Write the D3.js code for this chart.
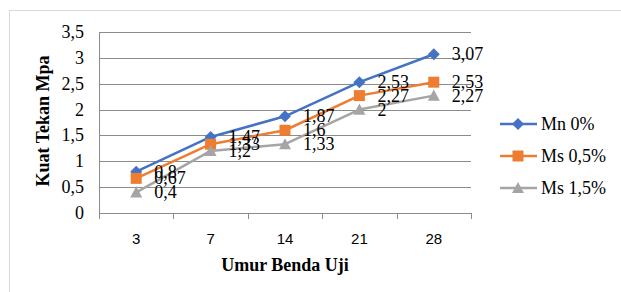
<!DOCTYPE html>
<html>
<head>
<meta charset="utf-8">
<script src="https://cdn.jsdelivr.net/npm/d3@7"></script>
<style>
  body { margin: 0; background: #fff; }
  svg { display: block; }
</style>
</head>
<body>
<svg id="chart" width="621" height="292"></svg>
<script>
// chart data
const categories = ["3", "7", "14", "21", "28"];
const seriesNames = ["Mn 0%", "Ms 0,5%", "Ms 1,5%"];
const mn0 = [0.8, 1.47, 1.87, 2.53, 3.07];
const ms05 = [0.67, 1.33, 1.6, 2.27, 2.53];
const ms15 = [0.4, 1.2, 1.33, 2, 2.27];
const yTicks = [0, 0.5, 1, 1.5, 2, 2.5, 3, 3.5];

const colors = ["#4472C4", "#ED7D31", "#A5A5A5"];

// excel-like marker shapes (square diamond, square, triangle)
const diamond = { draw: function(ctx, size) { const r = Math.sqrt(size) / 2;
  ctx.moveTo(0, -r); ctx.lineTo(r, 0); ctx.lineTo(0, r); ctx.lineTo(-r, 0); ctx.closePath(); } };
const square = { draw: function(ctx, size) { const r = Math.sqrt(size) / 2;
  ctx.rect(-r, -r, 2 * r, 2 * r); } };
const triangle = { draw: function(ctx, size) { const r = Math.sqrt(size) / 2;
  ctx.moveTo(0, -r); ctx.lineTo(r, r * 0.85); ctx.lineTo(-r, r * 0.85); ctx.closePath(); } };
const shapes = [diamond, square, triangle];
const symSize = [144, 121, 144];

const series = [mn0, ms05, ms15].map(function(v, i) {
  return { name: seriesNames[i], values: v, color: colors[i], shape: shapes[i], size: symSize[i] };
});

const svg = d3.select("#chart");
const serif = "'Liberation Serif', 'Times New Roman', serif";
const fmt = function(v) { return String(v).replace(".", ","); };

// outer frame (cut off at right and bottom like the reference)
svg.append("rect")
  .attr("x", 9.5).attr("y", 10.5)
  .attr("width", 640).attr("height", 300)
  .attr("fill", "none")
  .attr("stroke", "#d9d9d9")
  .attr("stroke-width", 1);

const plot = { left: 99, right: 471, top: 32, bottom: 213 };

const x = d3.scaleBand()
  .domain(categories)
  .range([plot.left, plot.right]);

const y = d3.scaleLinear()
  .domain([0, 3.5])
  .range([plot.bottom, plot.top]);

// gridlines
svg.append("g")
  .selectAll("line")
  .data(yTicks.filter(function(d) { return d > 0; }))
  .enter().append("line")
    .attr("x1", plot.left).attr("x2", plot.right)
    .attr("y1", function(d) { return Math.round(y(d)) + 0.5; })
    .attr("y2", function(d) { return Math.round(y(d)) + 0.5; })
    .attr("stroke", "#8c8c8c")
    .attr("stroke-width", 1);

// y axis line
svg.append("line")
  .attr("x1", plot.left + 0.5).attr("x2", plot.left + 0.5)
  .attr("y1", plot.top).attr("y2", plot.bottom)
  .attr("stroke", "#8c8c8c");

// y tick labels
svg.append("g")
  .selectAll("text")
  .data(yTicks)
  .enter().append("text")
    .attr("x", 84)
    .attr("y", function(d) { return y(d); })
    .attr("dy", "0.33em")
    .attr("text-anchor", "end")
    .style("font-family", serif)
    .style("font-size", "18px")
    .attr("fill", "#000")
    .text(fmt);

// x axis with ticks at band edges
const xAxisG = svg.append("g");
xAxisG.append("line")
  .attr("x1", plot.left).attr("x2", plot.right)
  .attr("y1", plot.bottom + 0.5).attr("y2", plot.bottom + 0.5)
  .attr("stroke", "#8c8c8c");

const edges = categories.map(function(c) { return x(c); }).concat([plot.right]);
xAxisG.selectAll(".tk")
  .data(edges)
  .enter().append("line")
    .attr("class", "tk")
    .attr("x1", function(d) { return Math.round(d) + 0.5; })
    .attr("x2", function(d) { return Math.round(d) + 0.5; })
    .attr("y1", plot.bottom).attr("y2", plot.bottom + 6)
    .attr("stroke", "#8c8c8c");

xAxisG.selectAll("text")
  .data(categories)
  .enter().append("text")
    .attr("x", function(d) { return x(d) + x.bandwidth() / 2; })
    .attr("y", 244)
    .attr("text-anchor", "middle")
    .style("font-family", "'Liberation Sans', Arial, sans-serif")
    .style("font-size", "15px")
    .attr("fill", "#000")
    .text(function(d) { return d; });

// axis titles
svg.append("text")
  .attr("x", 285).attr("y", 271)
  .attr("text-anchor", "middle")
  .style("font-family", serif)
  .style("font-size", "18px")
  .style("font-weight", "bold")
  .text("Umur Benda Uji");

svg.append("text")
  .attr("transform", "translate(49,121) rotate(-90)")
  .attr("text-anchor", "middle")
  .style("font-family", serif)
  .style("font-size", "18px")
  .style("font-weight", "bold")
  .text("Kuat Tekan Mpa");

const cx = function(i) { return x(categories[i]) + x.bandwidth() / 2; };

const line = d3.line()
  .x(function(d, i) { return cx(i); })
  .y(function(d) { return y(d); });

// series lines and markers
series.forEach(function(s) {
  const g = svg.append("g");
  g.append("path")
    .datum(s.values)
    .attr("d", line)
    .attr("fill", "none")
    .attr("stroke", s.color)
    .attr("stroke-width", 2.5)
    .attr("stroke-linejoin", "round");
  g.selectAll("path.m")
    .data(s.values)
    .enter().append("path")
      .attr("class", "m")
      .attr("d", d3.symbol().type(s.shape).size(s.size))
      .attr("transform", function(d, i) { return "translate(" + cx(i) + "," + y(d) + ")"; })
      .attr("fill", s.color);
});

// data labels
series.forEach(function(s) {
  svg.append("g")
    .selectAll("text")
    .data(s.values)
    .enter().append("text")
      .attr("x", function(d, i) { return cx(i) + 18; })
      .attr("y", function(d) { return y(d); })
      .attr("dy", "0.33em")
      .style("font-family", serif)
      .style("font-size", "18px")
      .attr("fill", "#000")
      .text(fmt);
});

// legend
const legend = svg.append("g")
  .selectAll("g")
  .data(series)
  .enter().append("g")
    .attr("transform", function(d, i) { return "translate(500," + (124 + i * 32) + ")"; });

legend.append("line")
  .attr("x1", 0).attr("x2", 37)
  .attr("stroke", function(d) { return d.color; })
  .attr("stroke-width", 2.5);

legend.append("path")
  .attr("d", function(d) { return d3.symbol().type(d.shape).size(d.size)(); })
  .attr("transform", "translate(18,0)")
  .attr("fill", function(d) { return d.color; });

legend.append("text")
  .attr("x", 41)
  .attr("dy", "0.33em")
  .style("font-family", serif)
  .style("font-size", "18px")
  .text(function(d) { return d.name; });
</script>
</body>
</html>
